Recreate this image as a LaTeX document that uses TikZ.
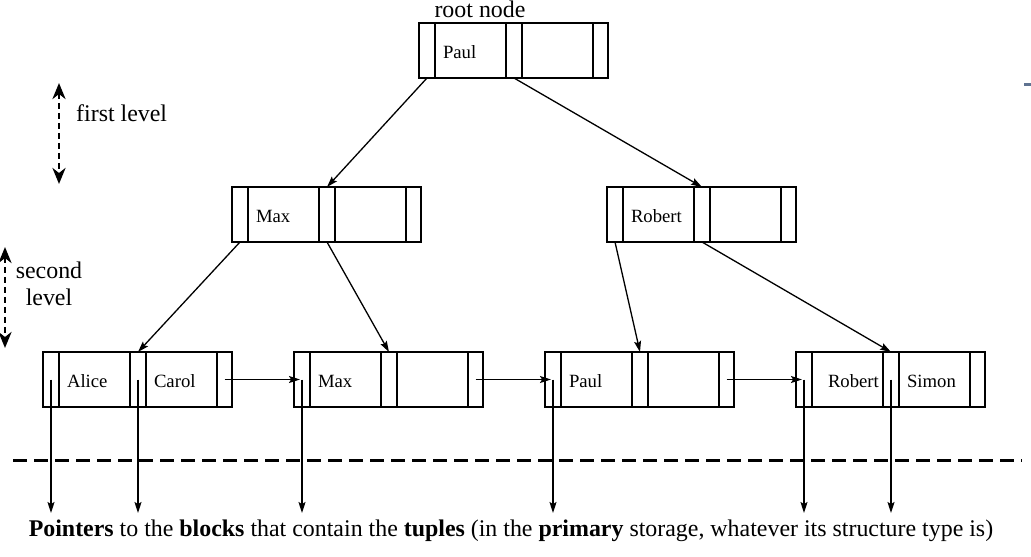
\documentclass[tikz,border=0pt]{standalone}
\usepackage{fontspec}
\setmainfont{Liberation Serif}
\usetikzlibrary{arrows.meta}
\tikzset{
  pc/.style={draw, line width=1.4pt, minimum width=16pt, minimum height=55pt, inner sep=0pt, outer sep=0pt},
  kc/.style={draw, line width=1.4pt, minimum width=71pt, minimum height=55pt, inner xsep=8pt, inner ysep=0pt, outer sep=0pt, text width=55pt, align=left, text height=15.6pt, text depth=0pt, font=\fontsize{18.7}{20}\selectfont},
  treearrow/.style={line width=1.3pt, -{Stealth[length=11pt,width=7pt,inset=2pt]}},
  lvlarrow/.style={line width=2.8pt, dash pattern=on 6pt off 4pt, {Stealth[length=16pt,width=13pt,inset=5pt]}-{Stealth[length=16pt,width=13pt,inset=5pt]}},
  bigtext/.style={font=\fontsize{23.9}{27}\selectfont, inner sep=0pt},
  sepline/.style={line width=3pt, dash pattern=on 14pt off 7pt},
}
\newcommand\btnode[5]{%
  \node[pc, anchor=north west] (#1-p1) at (#2,#3) {};
  \node[kc, anchor=west] (#1-k1) at (#1-p1.east) {#4};
  \node[pc, anchor=west] (#1-p2) at (#1-k1.east) {};
  \node[kc, anchor=west] (#1-k2) at (#1-p2.east) {#5};
  \node[pc, anchor=west, minimum width=15pt] (#1-p3) at (#1-k2.east) {};
}
\begin{document}
\begin{tikzpicture}[x={(1pt,0pt)}, y={(0pt,-1pt)}]
\useasboundingbox (0,0) rectangle (1031,557);

% nodes
\btnode{root}{419}{23}{Paul}{}
\btnode{mx}{232}{187}{Max}{}
\btnode{rb}{607}{187}{Robert}{}
\btnode{la}{43}{352}{Alice}{Carol}
\btnode{lb}{294}{352}{Max}{}
\btnode{lc}{545}{352}{Paul}{}
\btnode{ld}{796}{352}{\hspace*{8pt}Robert}{Simon}

% labels
\node[bigtext] (rootlbl) at (480,9) {root node};
\node[bigtext, anchor=west] (lvl1) at (76,113) {first level};
\node[bigtext, align=center] (lvl2) at (49,284) {second\\level};
\node[bigtext] (caption) at (511,531) {\textbf{Pointers} to the \textbf{blocks} that contain the \textbf{tuples} (in the \textbf{primary} storage, whatever its structure type is)};

% level arrows
\coordinate (a1t) at (59,83);
\coordinate (a1b) at (59,184);
\coordinate (a2t) at (5,247);
\coordinate (a2b) at (5,348);
\draw[lvlarrow] (a1t) -- (a1b);
\draw[lvlarrow] (a2t) -- (a2b);

% tree arrows
\draw[treearrow] (root-p1.south) -- (mx-p2.north);
\draw[treearrow] (root-p2.south) -- (rb-p2.north);
\draw[treearrow] (mx-p1.south) -- (la-p2.north);
\draw[treearrow] (mx-p2.south) -- (lb-p2.north);
\draw[treearrow] (rb-p1.south) -- (lc-p2.north);
\draw[treearrow] (rb-p2.south) -- (ld-p2.north);

% leaf chain
\draw[treearrow, shorten >=2pt] (la-p3.center) -- (lb-p1.center);
\draw[treearrow, shorten >=2pt] (lb-p3.center) -- (lc-p1.center);
\draw[treearrow, shorten >=2pt] (lc-p3.center) -- (ld-p1.center);

% separator
\coordinate (sepL) at (13,460);
\coordinate (sepR) at (1022,460);
\draw[sepline] (sepL) -- (sepR);

% pointers down
\coordinate (bot) at (0,513);
\foreach \c in {la-p1,la-p2,lb-p1,lc-p1,ld-p1,ld-p2}{
  \draw[treearrow] (\c.center) -- (\c.center |- bot);
}

% small mark at right edge
\fill[fill={rgb,255:red,95;green,115;blue,145}] (1024,83) rectangle (1031,86);
\end{tikzpicture}
\end{document}
